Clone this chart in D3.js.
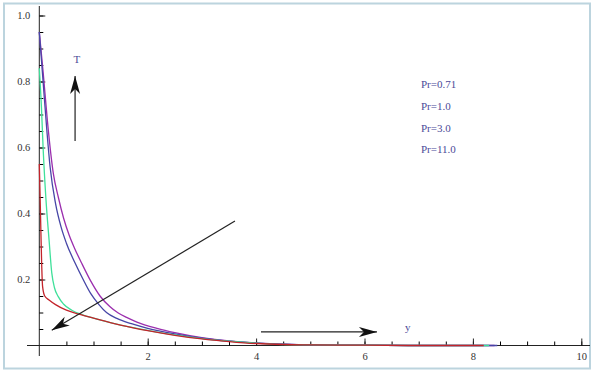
<!DOCTYPE html>
<html>
<head>
<meta charset="utf-8">
<script src="https://cdn.jsdelivr.net/npm/d3@7/dist/d3.min.js"></script>
<style>
  body { margin: 0; background: #fff; }
  svg { display: block; }
</style>
</head>
<body>
<div id="main"></div>
<script>
const ctx = { w: 593, h: 372 };

// curve values (y, T)
const redX    = [0, 0.015, 0.03, 0.045, 0.06, 0.1, 0.18, 0.3, 0.5, 0.75, 1.0, 1.5, 2.0, 2.5, 3.0, 3.5, 4.0, 4.5, 5.0, 6.0, 7.0, 8.2];
const redT    = [0.55, 0.45, 0.34, 0.24, 0.18, 0.15, 0.138, 0.124, 0.107, 0.094, 0.083, 0.062, 0.045, 0.031, 0.02, 0.012, 0.006, 0.003, 0.002, 0.001, 0, 0];
const greenX  = [0, 0.04, 0.07, 0.12, 0.18, 0.23, 0.28, 0.35, 0.45, 0.6, 0.8, 1.0, 1.5, 2.0, 2.5, 3.0, 3.5, 4.0, 4.5, 5.0, 6.0, 7.0, 8.3];
const greenT  = [0.84, 0.72, 0.6, 0.45, 0.32, 0.22, 0.175, 0.148, 0.125, 0.107, 0.093, 0.083, 0.062, 0.046, 0.032, 0.021, 0.013, 0.007, 0.003, 0.002, 0.001, 0, 0];
const blueX   = [0, 0.07, 0.14, 0.2, 0.3, 0.4, 0.5, 0.66, 0.8, 0.95, 1.1, 1.24, 1.43, 1.7, 2.0, 2.5, 3.0, 3.5, 4.0, 4.5, 5.0, 6.0, 7.0, 8.45];
const blueT   = [0.95, 0.8, 0.65, 0.54, 0.43, 0.36, 0.31, 0.25, 0.203, 0.157, 0.124, 0.1, 0.082, 0.066, 0.052, 0.035, 0.022, 0.013, 0.007, 0.004, 0.002, 0.001, 0, 0];
const purpleX = [0, 0.07, 0.15, 0.26, 0.35, 0.45, 0.55, 0.65, 0.78, 0.95, 1.12, 1.3, 1.45, 1.61, 1.8, 2.17, 2.5, 3.0, 3.5, 4.0, 4.5, 5.0, 6.0, 7.0, 8.4];
const purpleT = [0.95, 0.83, 0.68, 0.52, 0.45, 0.385, 0.335, 0.295, 0.25, 0.195, 0.15, 0.118, 0.099, 0.085, 0.071, 0.052, 0.039, 0.024, 0.014, 0.008, 0.004, 0.002, 0.001, 0, 0];

const legendLabels = ["Pr=0.71", "Pr=1.0", "Pr=3.0", "Pr=11.0"];
const xMajorTicks = [2, 4, 6, 8, 10];
const xMinorTicks = d3.range(0.5, 10.01, 0.5);
const yMajorTicks = [0.2, 0.4, 0.6, 0.8, 1.0];
const yMinorTicks = d3.range(0.05, 1.001, 0.05);

const series = [
    { xs: purpleX, ts: purpleT, color: "#9b2fae" },
    { xs: blueX,   ts: blueT,   color: "#4646a6" },
    { xs: greenX,  ts: greenT,  color: "#3fe09a" },
    { xs: redX,    ts: redT,    color: "#c3242b" }
];

// arrows in data coordinates [x0, t0, x1, t1], head at the second point
const arrows = [
    [0.66, 0.62, 0.66, 0.817],
    [3.61, 0.377, 0.23, 0.046],
    [4.09, 0.041, 6.23, 0.041]
];

function arrowHead(g, p0, p1) {
    const a = Math.atan2(p1[1] - p0[1], p1[0] - p0[0]);
    const len = 18, half = 5, notch = 13;
    const pt = (d, s) => [p1[0] - d * Math.cos(a) - s * Math.sin(a),
                          p1[1] - d * Math.sin(a) + s * Math.cos(a)];
    const pts = [p1, pt(len, half), pt(notch, 0), pt(len, -half)];
    g.append("path")
     .attr("d", "M" + pts.map(p => p.join(",")).join("L") + "Z")
     .attr("fill", "#111");
}

function createViz() {
    const svgEl = d3.select("#main").append("svg")
        .attr("width", ctx.w)
        .attr("height", ctx.h);

    // frame
    svgEl.append("rect")
        .attr("x", 4).attr("y", 3.5)
        .attr("width", 586).attr("height", 365)
        .attr("fill", "none")
        .attr("stroke", "#bcd4de")
        .attr("stroke-width", 2);

    const x = d3.scaleLinear().domain([0, 10]).range([39.3, 581.3]);
    const y = d3.scaleLinear().domain([0, 1]).range([345.5, 15.5]);

    const font = "'Liberation Serif', 'DejaVu Serif', serif";

    // axis lines, extended past the origin like the original
    svgEl.append("line")
        .attr("x1", 27).attr("x2", 590)
        .attr("y1", y(0)).attr("y2", y(0))
        .attr("stroke", "#222").attr("stroke-width", 1);
    svgEl.append("line")
        .attr("x1", x(0)).attr("x2", x(0))
        .attr("y1", 6).attr("y2", 356)
        .attr("stroke", "#222").attr("stroke-width", 1);

    // minor ticks
    svgEl.append("g")
        .attr("transform", `translate(0,${y(0)})`)
        .call(d3.axisBottom(x).tickValues(xMinorTicks).tickSize(-4).tickFormat(""))
        .call(g => g.select(".domain").remove());
    svgEl.append("g")
        .attr("transform", `translate(${x(0)},0)`)
        .call(d3.axisLeft(y).tickValues(yMinorTicks).tickSize(-4).tickFormat(""))
        .call(g => g.select(".domain").remove());

    // major ticks with labels
    const gx = svgEl.append("g")
        .attr("transform", `translate(0,${y(0)})`)
        .call(d3.axisBottom(x).tickValues(xMajorTicks).tickSize(-7).tickPadding(7).tickFormat(d3.format("d")));
    gx.select(".domain").remove();
    const gy = svgEl.append("g")
        .attr("transform", `translate(${x(0)},0)`)
        .call(d3.axisLeft(y).tickValues(yMajorTicks).tickSize(-6).tickPadding(9).tickFormat(d3.format(".1f")));
    gy.select(".domain").remove();

    [gx, gy].forEach(g => {
        g.selectAll(".tick line").attr("stroke", "#222");
        g.selectAll("text")
         .style("font-family", font)
         .style("font-size", "10.5px")
         .attr("fill", "#333");
    });

    // curves
    const line = d3.line()
        .x(d => x(d[0]))
        .y(d => y(d[1]))
        .curve(d3.curveMonotoneX);

    series.forEach(s => {
        svgEl.append("path")
            .datum(s.xs.map((v, i) => [v, s.ts[i]]))
            .attr("d", line)
            .attr("fill", "none")
            .attr("stroke", s.color)
            .attr("stroke-width", 1.3);
    });

    // arrows
    const ga = svgEl.append("g");
    arrows.forEach(a => {
        const p0 = [x(a[0]), y(a[1])], p1 = [x(a[2]), y(a[3])];
        ga.append("line")
          .attr("x1", p0[0]).attr("y1", p0[1])
          .attr("x2", p1[0]).attr("y2", p1[1])
          .attr("stroke", "#222").attr("stroke-width", 1.2);
        arrowHead(ga, p0, p1);
    });

    // labels
    svgEl.append("text")
        .attr("x", x(0.695)).attr("y", y(0.855))
        .attr("text-anchor", "middle")
        .style("font-family", font).style("font-size", "11px")
        .attr("fill", "#4b4b98")
        .text("T");
    svgEl.append("text")
        .attr("x", x(6.8)).attr("y", y(0.043))
        .attr("text-anchor", "middle")
        .style("font-family", font).style("font-size", "11px")
        .attr("fill", "#4b4b98")
        .text("y");

    // legend
    legendLabels.forEach((d, i) => {
        svgEl.append("text")
            .attr("x", 421)
            .attr("y", 88 + i * 21.8)
            .style("font-family", font)
            .style("font-size", "11px")
            .attr("fill", "#4b4b98")
            .text(d);
    });
}

createViz();
</script>
</body>
</html>
